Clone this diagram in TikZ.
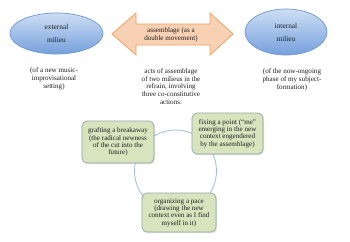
\documentclass[tikz,border=0pt]{standalone}
\usepackage{fontspec}
\setmainfont{Liberation Serif}
\usetikzlibrary{shapes.geometric,shadows}
\definecolor{ellborder}{RGB}{110,150,210}
\definecolor{elltop}{RGB}{205,222,244}
\definecolor{ellbot}{RGB}{118,160,220}
\definecolor{arrfill}{RGB}{248,208,180}
\definecolor{arrborder}{RGB}{242,160,95}
\definecolor{boxfill}{RGB}{215,228,190}
\definecolor{boxborder}{RGB}{145,168,165}
\definecolor{ringcol}{RGB}{160,188,225}
\definecolor{txt}{RGB}{30,30,30}
\tikzset{
  milieu/.style={ellipse, draw=ellborder, line width=0.7bp, top color=elltop, bottom color=ellbot,
    inner sep=0pt, text=txt, align=center, font=\fontsize{7.4}{13}\selectfont},
  caption/.style={align=center, text=txt, inner sep=0pt, font=\fontsize{7.1}{7.9}\selectfont},
  actbox/.style={rectangle, rounded corners=5bp, draw=boxborder, line width=0.7bp, fill=boxfill,
    text=txt, align=center, inner sep=0pt, font=\fontsize{7.1}{7.4}\selectfont,
    drop shadow={shadow xshift=1bp, shadow yshift=-1.2bp, opacity=0.25}},
  arrowshape/.style={draw=arrborder, line width=0.8bp, fill=arrfill, line join=miter},
  ring/.style={draw=ringcol, line width=0.8bp}
}
\begin{document}
\begin{tikzpicture}[x=1bp,y=-1bp]
\useasboundingbox (0,0) rectangle (350,242);
\fill[white] (0,0) rectangle (350,242);
% ellipses
\node[milieu, minimum width=93bp, minimum height=41bp] (ext) at (56.5,33.5) {external\\milieu};
\node[milieu, minimum width=82bp, minimum height=46bp] (int) at (286,32) {internal\\milieu};
% double arrow
\draw[arrowshape] (112,34) -- (136,13) -- (136,24) -- (210,24) -- (210,13) -- (233,34)
  -- (210,55) -- (210,45) -- (136,45) -- (136,55) -- cycle;
\node[caption] (dbl) at (171,35) {assemblage (as a\\double movement)};
% captions
\node[caption] (extcap) at (54,79) {(of a new music-\\improvisational\\setting)};
\node[caption] (intcap) at (292,80) {(of the now-ongoing\\phase of my subject-\\formation)};
\node[caption] (acts) at (171,86.5) {acts of assemblage\\of two milieus in the\\refrain, involving\\three co-constitutive\\actions:};
% ring
\draw[ring] (175.5,171) circle (41);
% boxes
\node[actbox, minimum width=72bp, minimum height=42bp] (graft) at (118,142) {grafting a breakaway\\(the radical newness\\of the cut into the\\future)};
\node[actbox, minimum width=71bp, minimum height=41bp] (fix) at (227.5,133.5) {fixing a point (“me”\\emerging in the new\\context engendered\\by the assemblage)};
\node[actbox, minimum width=74bp, minimum height=39bp] (pace) at (179,212.5) {organizing a pace\\(drawing the new\\context even as I find\\myself in it)};
\end{tikzpicture}
\end{document}
